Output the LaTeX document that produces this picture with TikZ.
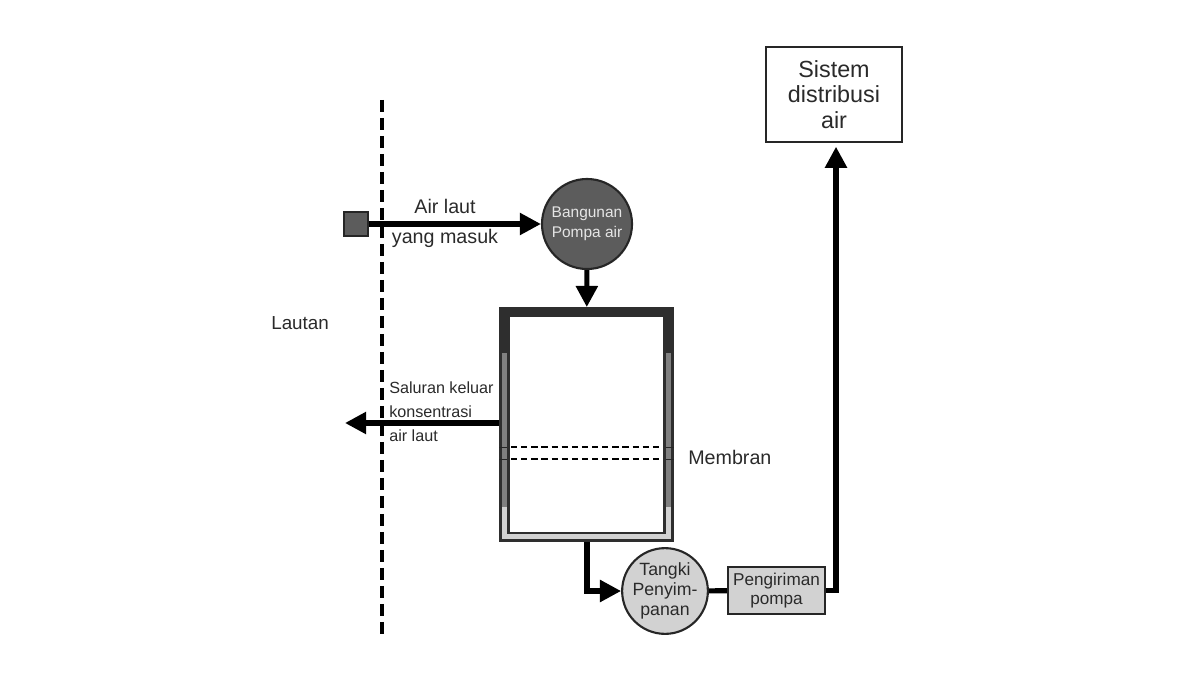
\documentclass[tikz,border=0pt]{standalone}
\usepackage{fontspec}
\setmainfont{Liberation Sans}
\usetikzlibrary{arrows.meta, positioning, calc}

\definecolor{wallDark}{HTML}{2E2E2E}
\definecolor{wallMid}{HTML}{808080}
\definecolor{wallLight}{HTML}{D2D2D2}
\definecolor{pumpGray}{HTML}{5C5C5C}
\definecolor{textGray}{HTML}{2A2A2A}

\tikzset{
    pipe/.style={draw=black, line width=3.6pt},
    pipehead/.style={pipe, -{Triangle[length=15pt, width=15pt]}},
    lbl/.style={text=textGray, inner sep=0pt, font=\fontsize{14}{18}\selectfont}
}

\begin{document}
\begin{tikzpicture}[x=0.025cm, y=-0.025cm]
    \useasboundingbox (0,0) rectangle (1200,675);

    % membrane wall
    \fill[wallLight] (500,308) rectangle (673,541);
    \fill[wallMid] (500,308) rectangle (673,507);
    \fill[wallDark] (500,308) rectangle (673,353);

    \node[draw=wallDark, line width=2pt, minimum width=4.3cm, minimum height=5.8cm, inner sep=0pt] (tank) at (586.5,424.5) {};
    \node[draw=wallDark, fill=white, line width=2pt, minimum width=3.9cm, minimum height=5.425cm, inner sep=0pt] (chamber) at (586.5,424.5) {};

    \node[circle, draw=black!85, fill=pumpGray, line width=1.5pt, minimum size=2.25cm, inner sep=0pt, text=white!90!black, align=center, font=\fontsize{11}{14}\selectfont] (intake) at (587,224) {Bangunan\\Pompa air};
    \node[draw=black!85, fill=pumpGray, line width=1.2pt, minimum size=0.6cm, inner sep=0pt] (source) at (356,224) {};
    \node[circle, draw=black!85, fill=wallLight, line width=1.5pt, minimum size=2cm, inner sep=0pt, text=textGray, align=center, font=\fontsize{12.6}{14}\selectfont] (storage) at (665,591) {Tangki\\Penyim-\\panan};
    \node[draw=black!85, fill=wallLight, line width=1.5pt, minimum width=2.425cm, minimum height=1.175cm, inner sep=0pt, text=textGray, align=center, font=\fontsize{12.2}{13.5}\selectfont] (sender) at (776.5,590.5) {Pengiriman\\pompa};
    \node[draw=black!85, fill=white, line width=1.7pt, minimum width=3.4cm, minimum height=2.375cm, inner sep=0pt, text=textGray, align=center, font=\fontsize{16.6}{18}\selectfont] (network) at (834,94.5) {Sistem\\distribusi\\air};

    % shoreline
    \coordinate (shoretop) at (382,100);
    \coordinate (shorebot) at (382,635);
    \draw[line width=2.9pt, dash pattern=on 8.5pt off 4.3pt] (shoretop) -- (shorebot);

    \coordinate (outlet) at (345,423);
    \coordinate (bend) at (836,591);

    \draw[pipehead] (source) -- (intake);
    \draw[pipehead] (intake) -- (tank);
    \draw[pipehead] (outlet -| tank.west) -- (outlet);
    \draw[pipehead] (tank.south -| intake) |- (storage);
    \draw[pipe] (storage) -- (sender);
    \draw[pipehead, shorten >=2.5pt] (sender) -| (network.south -| bend);

    % membrane lines
    \foreach \ypos/\name in {447/upper, 459/lower} {
        \coordinate (\name) at (587,\ypos);
        \draw[line width=0.7pt, draw=black!85] (\name -| tank.west) -- (\name -| chamber.west);
        \draw[line width=0.7pt, draw=black!85] (\name -| chamber.east) -- (\name -| tank.east);
        \draw[line width=1.5pt, dash pattern=on 4.4pt off 2.8pt] ($(\name -| chamber.west)+(4,0)$) -- ($(\name -| chamber.east)+(-3,0)$);
    }

    \node[lbl] (inlabel) at (445,206) {Air laut};
    \node[lbl] (inlabelb) at (445,238) {yang masuk};
    \node[lbl, anchor=west, font=\fontsize{13.4}{18}\selectfont] (sea) at (271,323) {Lautan};
    \node[lbl, anchor=west] (memlabel) at (688,457) {Membran};
    \node[text=textGray, inner sep=0pt, anchor=west, align=left, font=\fontsize{11.5}{17}\selectfont] (outlabel) at (389,412) {Saluran keluar\\konsentrasi\\air laut};
\end{tikzpicture}
\end{document}
